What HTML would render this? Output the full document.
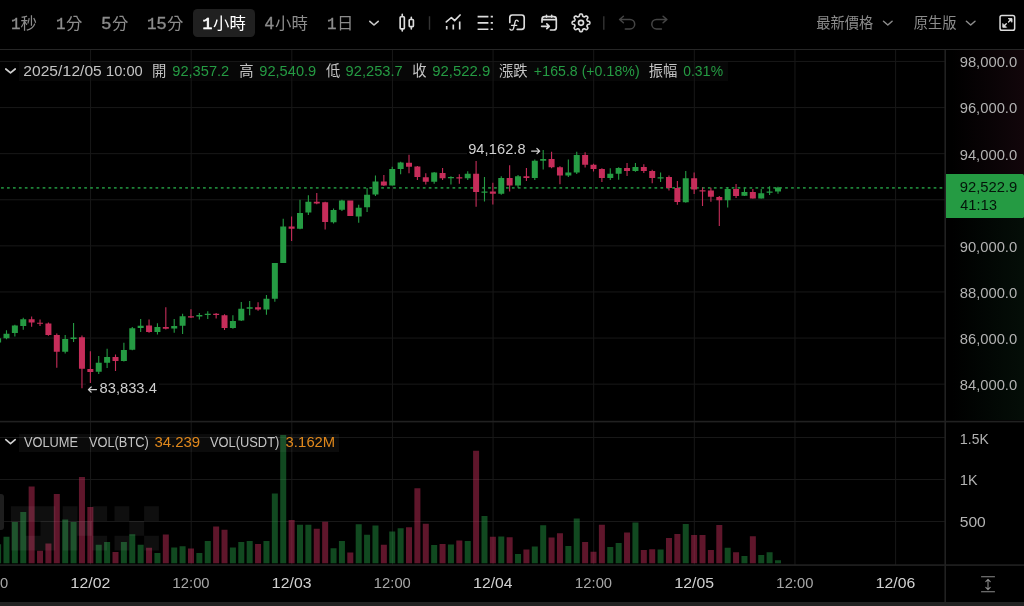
<!DOCTYPE html>
<html lang="zh-Hant">
<head>
<meta charset="utf-8">
<title>BTC/USDT 1H</title>
<style>
html,body{margin:0;padding:0;background:#000;}
body{width:1024px;height:606px;overflow:hidden;position:relative;font-family:"Liberation Sans",sans-serif;color:#b2b2b2;}
.abs{position:absolute;}
#toolbar{left:0;top:0;width:1024px;height:49px;border-bottom:1px solid #262626;box-sizing:content-box;background:#000;}
#tf-active{left:193px;top:9px;width:61.8px;height:28px;border-radius:4.5px;background:#202020;}
#main{left:0;top:50px;width:945px;height:370px;}
#vol{left:0;top:421px;width:945px;height:143px;}
#axis-top{left:946px;top:50px;width:78px;height:124px;background:linear-gradient(90deg,rgba(0,0,0,0) 8%,rgba(48,16,28,.36) 100%);}
#axis-bot{left:946px;top:218px;width:78px;height:202px;background:linear-gradient(90deg,rgba(0,0,0,0) 8%,rgba(12,40,22,.34) 100%);}
#plabel{left:946px;top:174px;width:78px;height:44px;background:#259b43;border-radius:0 1.5px 1.5px 0;}
#lastline{left:0;top:187.4px;width:945px;height:1.2px;background:repeating-linear-gradient(90deg,#25a045 0,#25a045 2.2px,transparent 2.2px,transparent 6.3px);}
#legend-bg{left:19px;top:62px;width:709px;height:18.5px;background:#070707;}
#vlegend-bg{left:19px;top:433.5px;width:320px;height:18px;background:rgba(255,255,255,.045);}
#handle{left:-2px;top:494px;width:5.5px;height:36px;border-radius:3px;background:#1e1e1e;}
#bottom{left:0;top:602px;width:1024px;height:4px;background:#222;}
#lo-bg{left:86px;top:382.5px;width:73px;height:13.5px;background:#000;}
#hi-bg{left:467px;top:143px;width:26px;height:15px;background:#000;}
#hi-bg2{left:494.1px;top:143px;width:47px;height:15px;background:#000;}
svg{position:absolute;left:0;top:0;}
#ui{will-change:transform;}
text{font-family:"Liberation Sans",sans-serif;}
text.m{font-family:"Liberation Mono",monospace;}
text.c{font-family:"Liberation Sans","Noto Sans CJK TC",sans-serif;}
</style>
</head>
<body>
<div id="toolbar" class="abs"><div id="tf-active" class="abs"></div></div>
<div id="main" class="abs"></div>
<div id="vol" class="abs"></div>
<div id="legend-bg" class="abs"></div>
<div id="axis-top" class="abs"></div>
<div id="axis-bot" class="abs"></div>
<svg id="chart" width="1024" height="606" viewBox="0 0 1024 606">
<rect x="90.05" y="50" width="1" height="515" fill="#181818"/>
<rect x="190.68" y="50" width="1" height="515" fill="#181818"/>
<rect x="291.31" y="50" width="1" height="515" fill="#181818"/>
<rect x="391.94" y="50" width="1" height="515" fill="#181818"/>
<rect x="492.57" y="50" width="1" height="515" fill="#181818"/>
<rect x="593.2" y="50" width="1" height="515" fill="#181818"/>
<rect x="693.83" y="50" width="1" height="515" fill="#181818"/>
<rect x="794.46" y="50" width="1" height="515" fill="#181818"/>
<rect x="895.09" y="50" width="1" height="515" fill="#181818"/>
<rect x="0" y="60.95" width="945" height="1" fill="#181818"/>
<rect x="0" y="107.05" width="945" height="1" fill="#181818"/>
<rect x="0" y="153.15" width="945" height="1" fill="#181818"/>
<rect x="0" y="199.25" width="945" height="1" fill="#181818"/>
<rect x="0" y="245.35" width="945" height="1" fill="#181818"/>
<rect x="0" y="291.45" width="945" height="1" fill="#181818"/>
<rect x="0" y="337.55" width="945" height="1" fill="#181818"/>
<rect x="0" y="383.65" width="945" height="1" fill="#181818"/>
<rect x="0" y="437" width="945" height="1" fill="#181818"/>
<rect x="0" y="479" width="945" height="1" fill="#181818"/>
<rect x="0" y="521" width="945" height="1" fill="#181818"/>
<line x1="1.08" y1="187.95" x2="943" y2="187.95" stroke="#25a045" stroke-width="1.7" stroke-dasharray="2.7 3.24" opacity=".82"/>
<path d="M-4.9 544.3h6V563.3h-6zM3.49 536.7h6V563.3h-6zM11.87 521.9h6V563.3h-6zM20.26 512h6V563.3h-6zM62.19 519.6h6V563.3h-6zM70.57 521.9h6V563.3h-6zM95.73 544.8h6V563.3h-6zM104.12 542h6V563.3h-6zM120.89 542h6V563.3h-6zM129.28 534.2h6V563.3h-6zM137.66 544.8h6V563.3h-6zM154.43 553.1h6V563.3h-6zM171.21 547.6h6V563.3h-6zM179.59 546.2h6V563.3h-6zM196.36 553.1h6V563.3h-6zM204.75 540.9h6V563.3h-6zM229.91 547.6h6V563.3h-6zM238.29 542h6V563.3h-6zM246.68 540.9h6V563.3h-6zM263.45 540.9h6V563.3h-6zM271.84 493.5h6V563.3h-6zM280.22 435.1h6V563.3h-6zM297 524.7h6V563.3h-6zM305.38 524.7h6V563.3h-6zM330.54 548.2h6V563.3h-6zM338.93 540.9h6V563.3h-6zM355.7 524.2h6V563.3h-6zM364.08 534.8h6V563.3h-6zM372.47 525.6h6V563.3h-6zM389.24 531.6h6V563.3h-6zM397.63 528.2h6V563.3h-6zM431.17 545h6V563.3h-6zM447.94 544.5h6V563.3h-6zM464.72 540.9h6V563.3h-6zM481.49 515.9h6V563.3h-6zM498.26 536.5h6V563.3h-6zM515.03 554h6V563.3h-6zM531.8 546.4h6V563.3h-6zM540.19 525.2h6V563.3h-6zM565.35 545.9h6V563.3h-6zM573.73 518.5h6V563.3h-6zM607.28 546.9h6V563.3h-6zM615.66 542.9h6V563.3h-6zM632.44 522.4h6V563.3h-6zM657.59 549.6h6V563.3h-6zM682.75 524h6V563.3h-6zM724.68 547.8h6V563.3h-6zM741.45 555.9h6V563.3h-6zM758.23 555h6V563.3h-6zM766.61 552.2h6V563.3h-6zM775 560.3h6V563.3h-6z" fill="#259b43" fill-opacity=".47"/>
<path d="M28.64 486.6h6V563.3h-6zM37.03 550.8h6V563.3h-6zM45.42 543.4h6V563.3h-6zM53.8 494h6V563.3h-6zM78.96 476.9h6V563.3h-6zM87.35 507.1h6V563.3h-6zM112.5 551.9h6V563.3h-6zM146.05 547.8h6V563.3h-6zM162.82 534.4h6V563.3h-6zM187.98 548.5h6V563.3h-6zM213.14 526.5h6V563.3h-6zM221.52 529.8h6V563.3h-6zM255.07 544.1h6V563.3h-6zM288.61 520.1h6V563.3h-6zM313.77 528.8h6V563.3h-6zM322.15 521.7h6V563.3h-6zM347.31 552.4h6V563.3h-6zM380.86 544.8h6V563.3h-6zM406.01 527.2h6V563.3h-6zM414.4 488.2h6V563.3h-6zM422.79 523.8h6V563.3h-6zM439.56 544.1h6V563.3h-6zM456.33 540.4h6V563.3h-6zM473.1 450.8h6V563.3h-6zM489.87 536.7h6V563.3h-6zM506.65 537.2h6V563.3h-6zM523.42 549.4h6V563.3h-6zM548.58 537.4h6V563.3h-6zM556.96 533.2h6V563.3h-6zM582.12 542h6V563.3h-6zM590.51 551.7h6V563.3h-6zM598.89 524.7h6V563.3h-6zM624.05 532.5h6V563.3h-6zM640.82 550.1h6V563.3h-6zM649.21 549.2h6V563.3h-6zM665.98 538.1h6V563.3h-6zM674.37 533.9h6V563.3h-6zM691.14 535.1h6V563.3h-6zM699.52 535.1h6V563.3h-6zM707.91 550.1h6V563.3h-6zM716.3 524.9h6V563.3h-6zM733.07 552.2h6V563.3h-6zM749.84 536.3h6V563.3h-6z" fill="#c62d5a" fill-opacity=".48"/>
<path d="M-2.45 336.5h1.1V344.5h-1.1zM5.94 330.2h1.1V339.3h-1.1zM14.32 324.8h1.1V336.6h-1.1zM22.71 317.8h1.1V329.7h-1.1zM64.64 335h1.1V353.5h-1.1zM73.02 323.1h1.1V342.1h-1.1zM98.18 356.1h1.1V374h-1.1zM106.57 348.7h1.1V368h-1.1zM123.34 342.7h1.1V361.4h-1.1zM131.73 327.1h1.1V350.3h-1.1zM140.11 318.9h1.1V332.1h-1.1zM156.88 323.2h1.1V334.4h-1.1zM173.66 319h1.1V332.7h-1.1zM182.04 313.8h1.1V334.1h-1.1zM198.81 312.9h1.1V319.5h-1.1zM207.2 311.3h1.1V318.9h-1.1zM232.36 315.2h1.1V328.8h-1.1zM240.74 301.9h1.1V321h-1.1zM249.13 301.1h1.1V315.3h-1.1zM265.9 295h1.1V314.8h-1.1zM274.29 263.1h1.1V301.7h-1.1zM282.67 218.8h1.1V263.1h-1.1zM299.45 199.8h1.1V229.2h-1.1zM307.83 195.3h1.1V214.9h-1.1zM332.99 208.4h1.1V223.5h-1.1zM341.38 199.8h1.1V210.9h-1.1zM358.15 204.7h1.1V222.8h-1.1zM366.53 188h1.1V212.1h-1.1zM374.92 175.4h1.1V196h-1.1zM391.69 166.7h1.1V185.8h-1.1zM400.08 161.7h1.1V174.2h-1.1zM433.62 171.9h1.1V183.8h-1.1zM450.39 176.2h1.1V184.5h-1.1zM467.17 171.3h1.1V179.9h-1.1zM483.94 177.1h1.1V201.5h-1.1zM500.71 176.2h1.1V194.7h-1.1zM517.48 174.9h1.1V187.8h-1.1zM534.25 159.4h1.1V180h-1.1zM542.64 150h1.1V169.6h-1.1zM567.8 159.4h1.1V177.1h-1.1zM576.18 151.8h1.1V173.9h-1.1zM609.73 168.3h1.1V180h-1.1zM618.11 167.2h1.1V179.7h-1.1zM634.89 163.1h1.1V171.7h-1.1zM660.04 172.5h1.1V182.1h-1.1zM685.2 171h1.1V202.7h-1.1zM727.13 187.1h1.1V207.6h-1.1zM743.9 187.7h1.1V196h-1.1zM760.68 188.9h1.1V198.7h-1.1zM769.06 186.3h1.1V194.9h-1.1zM777.45 186.8h1.1V193.8h-1.1zM-4.9 338.3h6V342.6h-6zM3.49 333.7h6V338.3h-6zM11.87 325.6h6V333h-6zM20.26 319.2h6V325.9h-6zM62.19 339h6V351.7h-6zM70.57 337.6h6V339.1h-6zM95.73 362.7h6V371.8h-6zM104.12 357.1h6V362.7h-6zM120.89 350h6V361h-6zM129.28 328.2h6V349.8h-6zM137.66 325.8h6V328.1h-6zM154.43 327h6V332.1h-6zM171.21 326.1h6V328.4h-6zM179.59 316.2h6V325.8h-6zM196.36 315.1h6V316.4h-6zM204.75 313.8h6V315.1h-6zM229.91 320.9h6V328.1h-6zM238.29 308.8h6V320.6h-6zM246.68 307.2h6V308.7h-6zM263.45 298.7h6V309.4h-6zM271.84 263.1h6V298.7h-6zM280.22 226.5h6V263.1h-6zM297 212.9h6V228.7h-6zM305.38 201.8h6V212.6h-6zM330.54 209.9h6V222.3h-6zM338.93 200.5h6V209.7h-6zM355.7 207.8h6V216.4h-6zM364.08 194.7h6V207.3h-6zM372.47 181.4h6V194.6h-6zM389.24 169.1h6V185.5h-6zM397.63 162.4h6V169h-6zM431.17 172.6h6V181.8h-6zM447.94 177.1h6V178.3h-6zM464.72 173.8h6V178.2h-6zM481.49 191.4h6V192.7h-6zM498.26 178h6V193.7h-6zM515.03 176.2h6V185.5h-6zM531.8 160.7h6V177.9h-6zM540.19 158.9h6V160.7h-6zM565.35 172.6h6V175.6h-6zM573.73 155.1h6V172.6h-6zM607.28 173.8h6V178h-6zM615.66 168h6V173.8h-6zM632.44 166.9h6V171h-6zM657.59 177.25h6V178.45h-6zM682.75 178.3h6V202.2h-6zM724.68 188.9h6V200.2h-6zM741.45 192.1h6V195.8h-6zM758.23 193.3h6V198.5h-6zM766.61 191.6h6V192.8h-6zM775 187.5h6V191.4h-6z" fill="#259b43"/>
<path d="M31.09 316.5h1.1V326.7h-1.1zM39.48 319.5h1.1V326.1h-1.1zM47.87 322.6h1.1V335.7h-1.1zM56.25 333.4h1.1V367.7h-1.1zM81.41 335.5h1.1V388.3h-1.1zM89.8 351.2h1.1V383.9h-1.1zM114.95 354.5h1.1V371h-1.1zM148.5 319.5h1.1V332.7h-1.1zM165.27 307.3h1.1V329.4h-1.1zM190.43 309.3h1.1V317.9h-1.1zM215.59 312.9h1.1V318.4h-1.1zM223.97 314.2h1.1V330.1h-1.1zM257.52 302.2h1.1V310.7h-1.1zM291.06 216.4h1.1V241.1h-1.1zM316.22 193.1h1.1V204.2h-1.1zM324.6 201.8h1.1V229.5h-1.1zM349.76 200.5h1.1V216.1h-1.1zM383.31 174.9h1.1V186.1h-1.1zM408.46 154.8h1.1V173.3h-1.1zM416.85 166h1.1V180h-1.1zM425.24 173.3h1.1V184.5h-1.1zM442.01 168h1.1V179.9h-1.1zM458.78 174.2h1.1V183.8h-1.1zM475.55 161h1.1V206.8h-1.1zM492.32 182.8h1.1V204.6h-1.1zM509.1 165.3h1.1V191.4h-1.1zM525.87 168h1.1V180.9h-1.1zM551.03 151.8h1.1V168.3h-1.1zM559.41 166.3h1.1V184.2h-1.1zM584.57 152.3h1.1V167.6h-1.1zM592.96 163.8h1.1V171.6h-1.1zM601.34 168.3h1.1V182h-1.1zM626.5 163.1h1.1V176h-1.1zM643.27 164.3h1.1V173h-1.1zM651.66 169.7h1.1V183.3h-1.1zM668.43 175.5h1.1V190.4h-1.1zM676.82 180.9h1.1V204.7h-1.1zM693.59 172.5h1.1V194h-1.1zM701.97 187.4h1.1V206h-1.1zM710.36 187.8h1.1V201.8h-1.1zM718.75 196h1.1V225.9h-1.1zM735.52 183.9h1.1V198h-1.1zM752.29 188.9h1.1V198.7h-1.1zM28.64 319.2h6V322.6h-6zM37.03 322.65h6V323.85h-6zM45.42 323.6h6V335h-6zM53.8 335h6V351.7h-6zM78.96 337.3h6V368.7h-6zM87.35 369h6V372h-6zM112.5 357.1h6V361.1h-6zM146.05 325.6h6V332.1h-6zM162.82 327h6V328.8h-6zM187.98 316.2h6V317.4h-6zM213.14 313.75h6V314.95h-6zM221.52 315.2h6V328.1h-6zM255.07 307.2h6V309.5h-6zM288.61 226.6h6V228.7h-6zM313.77 201.8h6V203.5h-6zM322.15 202.3h6V222h-6zM347.31 200.5h6V216.1h-6zM380.86 181.5h6V185.6h-6zM406.01 162.7h6V166.7h-6zM414.4 166.5h6V177.1h-6zM422.79 177.2h6V181.8h-6zM439.56 172.9h6V178.2h-6zM456.33 177.2h6V178.5h-6zM473.1 173.8h6V191.9h-6zM489.87 191.4h6V193.7h-6zM506.65 178h6V185.6h-6zM523.42 176.2h6V177.9h-6zM548.58 159.1h6V167.3h-6zM556.96 167.3h6V175.4h-6zM582.12 155.1h6V164.8h-6zM590.51 164.8h6V169h-6zM598.89 169h6V178h-6zM624.05 168.1h6V171h-6zM640.82 166.9h6V170.9h-6zM649.21 170.9h6V178.1h-6zM665.98 177.1h6V187.9h-6zM674.37 187.9h6V202.1h-6zM691.14 178.3h6V189.5h-6zM699.52 190.3h6V191.5h-6zM707.91 190.5h6V196.7h-6zM716.3 197h6V200.2h-6zM733.07 188.9h6V196h-6zM749.84 192.1h6V198.5h-6z" fill="#c62d5a"/>
<path d="M10.9 506.2h14.8v14.8h-14.8zM25.7 506.2h14.8v14.8h-14.8zM40.5 506.2h14.8v14.8h-14.8zM10.9 521h14.8v14.8h-14.8zM40.5 521h14.8v14.8h-14.8zM10.9 535.8h14.8v14.8h-14.8zM25.7 535.8h14.8v14.8h-14.8zM40.5 535.8h14.8v14.8h-14.8zM62.7 506.2h14.8v14.8h-14.8zM92.3 506.2h14.8v14.8h-14.8zM62.7 521h14.8v14.8h-14.8zM77.5 521h14.8v14.8h-14.8zM62.7 535.8h14.8v14.8h-14.8zM92.3 535.8h14.8v14.8h-14.8zM114.5 506.2h14.8v14.8h-14.8zM144.1 506.2h14.8v14.8h-14.8zM129.3 521h14.8v14.8h-14.8zM114.5 535.8h14.8v14.8h-14.8zM144.1 535.8h14.8v14.8h-14.8z" fill="#fff" fill-opacity="0.058"/>
<g id="frame" fill="#212121">
<rect x="0" y="420.8" width="1024" height="1.6"/>
<rect x="0" y="564.3" width="1024" height="1.6"/>
<rect x="944.4" y="50" width="1.6" height="552"/>
</g>
</svg>
<div id="vlegend-bg" class="abs"></div>
<div id="lo-bg" class="abs"></div>
<div id="hi-bg" class="abs"></div>
<div id="hi-bg2" class="abs"></div>
<div id="plabel" class="abs"></div>
<div id="handle" class="abs"></div>
<div id="bottom" class="abs"></div>
<svg id="ui" width="1024" height="606" viewBox="0 0 1024 606">

<g fill="none" stroke="#dcdcdc" stroke-width="1.65" stroke-linecap="round" stroke-linejoin="round">
<path d="M369.8 21.3L374 25L378.2 21.3" stroke="#c8c8c8"/>
<rect x="400.15" y="16.75" width="4.2" height="12.1" rx="0.8"/><path d="M402.25 14.4V16.2M402.25 29.4V30.9"/>
<rect x="409.2" y="19.45" width="4.2" height="7.2" rx="0.8"/><path d="M411.3 17.4V18.9M411.3 27.2V29"/>
<path d="M446.7 26V29.6M453.3 24.6V29.6M459.7 21.4V29.6" stroke-linecap="butt"/>
<path d="M446.3 21.9L451.4 17.5L454.6 20.6L460.1 15"/>
<path d="M477.6 16.6H488.4M477.6 22.9H488.4M477.6 29.2H488.4M490.7 16.6H492.9M490.7 22.9H492.9M490.7 29.2H492.9" stroke-linecap="butt"/>
<path d="M509.8 22.6V17.6Q509.8 15 512.4 15H521.6Q524.2 15 524.2 17.6V26.8Q524.2 29.4 521.6 29.4H517.2"/>
<path d="M518.2 21.3C517.9 19.7 515.6 19.5 515.2 21.5L513.5 28.6C513 30.6 510.7 30.7 509.9 29.1M511.5 25.3H516.8" stroke-width="1.3"/>
<path d="M542 22.2V19.2Q542 16.6 544.6 16.6H553.7Q556.3 16.6 556.3 19.2V27.4Q556.3 30 553.7 30H550.4M542 19.6H556.3M546.5 15.3V17.2M551.7 15.3V17.2"/>
<path d="M541.6 26.3H549M546.8 23.9L549.3 26.3L546.8 28.7"/>
<path d="M581 13.95L581.35 13.97L581.69 14.02L582.02 14.17L582.31 14.53L582.51 15.2L582.66 15.87L582.85 16.25L583.07 16.43L583.3 16.55L583.54 16.66L583.79 16.75L584.04 16.83L584.33 16.86L584.72 16.73L585.31 16.36L585.92 16.02L586.38 15.97L586.72 16.1L587 16.31L587.26 16.54L587.49 16.8L587.7 17.08L587.83 17.42L587.78 17.88L587.44 18.49L587.07 19.08L586.94 19.47L586.97 19.76L587.05 20.01L587.14 20.26L587.25 20.5L587.37 20.73L587.55 20.95L587.93 21.14L588.6 21.29L589.27 21.49L589.63 21.78L589.78 22.11L589.83 22.45L589.85 22.8L589.83 23.15L589.78 23.49L589.63 23.82L589.27 24.11L588.6 24.31L587.93 24.46L587.55 24.65L587.37 24.87L587.25 25.1L587.14 25.34L587.05 25.59L586.97 25.84L586.94 26.13L587.07 26.52L587.44 27.11L587.78 27.72L587.83 28.18L587.7 28.52L587.49 28.8L587.26 29.06L587 29.29L586.72 29.5L586.38 29.63L585.92 29.58L585.31 29.24L584.72 28.87L584.33 28.74L584.04 28.77L583.79 28.85L583.54 28.94L583.3 29.05L583.07 29.17L582.85 29.35L582.66 29.73L582.51 30.4L582.31 31.07L582.02 31.43L581.69 31.58L581.35 31.63L581 31.65L580.65 31.63L580.31 31.58L579.98 31.43L579.69 31.07L579.49 30.4L579.34 29.73L579.15 29.35L578.93 29.17L578.7 29.05L578.46 28.94L578.21 28.85L577.96 28.77L577.67 28.74L577.28 28.87L576.69 29.24L576.08 29.58L575.62 29.63L575.28 29.5L575 29.29L574.74 29.06L574.51 28.8L574.3 28.52L574.17 28.18L574.22 27.72L574.56 27.11L574.93 26.52L575.06 26.13L575.03 25.84L574.95 25.59L574.86 25.34L574.75 25.1L574.63 24.87L574.45 24.65L574.07 24.46L573.4 24.31L572.73 24.11L572.37 23.82L572.22 23.49L572.17 23.15L572.15 22.8L572.17 22.45L572.22 22.11L572.37 21.78L572.73 21.49L573.4 21.29L574.07 21.14L574.45 20.95L574.63 20.73L574.75 20.5L574.86 20.26L574.95 20.01L575.03 19.76L575.06 19.47L574.93 19.08L574.56 18.49L574.22 17.88L574.17 17.42L574.3 17.08L574.51 16.8L574.74 16.54L575 16.31L575.28 16.1L575.62 15.97L576.08 16.02L576.69 16.36L577.28 16.73L577.67 16.86L577.96 16.83L578.21 16.75L578.46 16.66L578.7 16.55L578.93 16.43L579.15 16.25L579.34 15.87L579.49 15.2L579.69 14.53L579.98 14.17L580.31 14.02L580.65 13.97Z"/><circle cx="581" cy="22.8" r="2.5"/>
</g>
<path d="M429.5 16.2V29.7M603.8 16.2V29.8" stroke="#333" stroke-width="1.4" fill="none"/>
<g fill="none" stroke="#454545" stroke-width="1.5" stroke-linecap="round" stroke-linejoin="round">
<path d="M623.4 16.2L619.6 19.5L623.4 22.8M619.8 19.5H630A4.7 4.7 0 0 1 630 28.9H625.3"/>
<path d="M663.1 16.2L666.9 19.5L663.1 22.8M666.7 19.5H656.5A4.7 4.7 0 0 0 656.5 28.9H661.4"/>
</g>
<g fill="none" stroke="#8c8c8c" stroke-width="1.5" stroke-linecap="round" stroke-linejoin="round">
<path d="M883.5 21.3L887.8 25L892.1 21.3M966.4 21.3L970.7 25L975 21.3"/>
</g>
<g fill="none" stroke="#dcdcdc" stroke-linecap="round" stroke-linejoin="round">
<rect x="1000.05" y="15.45" width="14.6" height="14.8" rx="1.8" stroke-width="1.5"/>
<path d="M1008.6 18.5H1012V21.9ZM1002.8 23.9V27.3H1006.2Z" fill="#dcdcdc" stroke-width="0.9"/><path d="M1011 19.5L1008.5 22M1003.8 26.3L1006.3 23.8" stroke-width="1.3"/>
</g>
<g fill="none" stroke="#d0d0d0" stroke-width="1.7" stroke-linecap="round" stroke-linejoin="round">
<path d="M5.8 69L10.5 72.9L15.2 69M5.8 439.7L10.5 443.6L15.2 439.7"/>
</g>
<g fill="none" stroke="#d0d0d0" stroke-width="1.2" stroke-linecap="round" stroke-linejoin="round">
<path d="M96.5 389.6H88.6M91.2 387L88.4 389.6L91.2 392.2"/>
<path d="M531.6 151.1H539.5M536.9 148.5L539.7 151.1L536.9 153.7"/>
</g>
<g fill="none" stroke="#8a8a8a" stroke-width="1.1" stroke-linecap="round" stroke-linejoin="round">
<path d="M981.5 576.8H994.5M981.5 591.7H994.5M988 579.6V589.4M985.8 581.6L988 579.4L990.2 581.6M985.8 587.4L988 589.6L990.2 587.4"/>
</g>

<g id="cjk">
<text class="c" x="20.52" y="29.38" font-size="16.4" fill="#8c8c8c">秒</text>
<text class="c" x="65.92" y="29.38" font-size="16.4" fill="#8c8c8c">分</text>
<text class="c" x="111.92" y="29.38" font-size="16.4" fill="#8c8c8c">分</text>
<text class="c" x="166.92" y="29.38" font-size="16.4" fill="#8c8c8c">分</text>
<text class="c" x="213.04" y="29.38" font-size="16.4" fill="#fff">小時</text>
<text class="c" x="275.04" y="29.38" font-size="16.4" fill="#8c8c8c">小時</text>
<text class="c" x="337.03" y="29.38" font-size="16.4" fill="#8c8c8c">日</text>
<text class="c" x="816.24" y="28.31" font-size="14.25" fill="#8c8c8c">最新價格</text>
<text class="c" x="913.66" y="28.31" font-size="14.25" fill="#8c8c8c">原生版</text>
<text class="c" x="152.06" y="76.23" font-size="14.3" fill="#c4c4c4">開</text>
<text class="c" x="239.13" y="76.23" font-size="14.3" fill="#c4c4c4">高</text>
<text class="c" x="325.99" y="76.23" font-size="14.3" fill="#c4c4c4">低</text>
<text class="c" x="412.17" y="76.23" font-size="14.3" fill="#c4c4c4">收</text>
<text class="c" x="498.93" y="76.23" font-size="14.3" fill="#c4c4c4">漲跌</text>
<text class="c" x="648.78" y="76.23" font-size="14.3" fill="#c4c4c4">振幅</text>
</g>
<g id="labels">
<text x="11.05" y="28.75" font-size="15.6" fill="#8c8c8c" textLength="9.51" lengthAdjust="spacingAndGlyphs" stroke="#8c8c8c" stroke-width="0.35" class="m">1</text>
<text x="56.05" y="28.75" font-size="15.6" fill="#8c8c8c" textLength="9.51" lengthAdjust="spacingAndGlyphs" stroke="#8c8c8c" stroke-width="0.35" class="m">1</text>
<text x="101.51" y="28.75" font-size="15.6" fill="#8c8c8c" textLength="9.62" lengthAdjust="spacingAndGlyphs" stroke="#8c8c8c" stroke-width="0.35">5</text>
<text x="147.05" y="28.75" font-size="15.6" fill="#8c8c8c" textLength="9.51" lengthAdjust="spacingAndGlyphs" stroke="#8c8c8c" stroke-width="0.35" class="m">1</text>
<text x="156.71" y="28.75" font-size="15.6" fill="#8c8c8c" textLength="9.62" lengthAdjust="spacingAndGlyphs" stroke="#8c8c8c" stroke-width="0.35">5</text>
<text x="202.62" y="28.75" font-size="15.6" fill="#fff" textLength="9.76" lengthAdjust="spacingAndGlyphs" stroke="#fff" stroke-width="0.7" class="m">1</text>
<text x="264.82" y="28.75" font-size="15.6" fill="#8c8c8c" textLength="9.27" lengthAdjust="spacingAndGlyphs" stroke="#8c8c8c" stroke-width="0.35">4</text>
<text x="327.05" y="28.75" font-size="15.6" fill="#8c8c8c" textLength="9.51" lengthAdjust="spacingAndGlyphs" stroke="#8c8c8c" stroke-width="0.35" class="m">1</text>
<text x="23.32" y="75.9" font-size="14" fill="#c4c4c4" textLength="78.43" lengthAdjust="spacingAndGlyphs">2025/<tspan class="m" font-size="14.62">1</tspan>2/05</text>
<text x="105.71" y="75.9" font-size="14" fill="#c4c4c4" textLength="37.05" lengthAdjust="spacingAndGlyphs"><tspan class="m" font-size="14.62">1</tspan>0:00</text>
<text x="172.31" y="75.9" font-size="14" fill="#259b43" textLength="56.92" lengthAdjust="spacingAndGlyphs">92,357.2</text>
<text x="259.32" y="75.9" font-size="14" fill="#259b43" textLength="56.88" lengthAdjust="spacingAndGlyphs">92,540.9</text>
<text x="345.61" y="75.9" font-size="14" fill="#259b43" textLength="57.13" lengthAdjust="spacingAndGlyphs">92,253.7</text>
<text x="432.3" y="75.9" font-size="14" fill="#259b43" textLength="57.9" lengthAdjust="spacingAndGlyphs">92,522.9</text>
<text x="533.82" y="75.9" font-size="14" fill="#259b43" textLength="105.79" lengthAdjust="spacingAndGlyphs">+<tspan class="m" font-size="14.62">1</tspan>65.8 (+0.<tspan class="m" font-size="14.62">1</tspan>8%)</text>
<text x="683.22" y="75.9" font-size="14" fill="#259b43" textLength="39.77" lengthAdjust="spacingAndGlyphs">0.3<tspan class="m" font-size="14.62">1</tspan>%</text>
<text x="23.94" y="446.9" font-size="14" fill="#c4c4c4" textLength="54.11" lengthAdjust="spacingAndGlyphs">VOLUME</text>
<text x="88.94" y="446.9" font-size="14" fill="#c4c4c4" textLength="59.85" lengthAdjust="spacingAndGlyphs">VOL(BTC)</text>
<text x="154.43" y="446.9" font-size="14" fill="#e0881c" textLength="45.78" lengthAdjust="spacingAndGlyphs">34.239</text>
<text x="209.94" y="446.9" font-size="14" fill="#c4c4c4" textLength="69.35" lengthAdjust="spacingAndGlyphs">VOL(USDT)</text>
<text x="285.44" y="446.9" font-size="14" fill="#e0881c" textLength="49.75" lengthAdjust="spacingAndGlyphs">3.<tspan class="m" font-size="14.62">1</tspan>62M</text>
<text x="99.56" y="393.2" font-size="14" fill="#d0d0d0" textLength="57.27" lengthAdjust="spacingAndGlyphs">83,833.4</text>
<text x="468.22" y="153.8" font-size="14" fill="#d0d0d0" textLength="57.31" lengthAdjust="spacingAndGlyphs">94,<tspan class="m" font-size="14.62">1</tspan>62.8</text>
<text x="959.71" y="67.3" font-size="14" fill="#b2b2b2" textLength="57.47" lengthAdjust="spacingAndGlyphs">98,000.0</text>
<text x="959.71" y="113.4" font-size="14" fill="#b2b2b2" textLength="57.47" lengthAdjust="spacingAndGlyphs">96,000.0</text>
<text x="959.71" y="159.5" font-size="14" fill="#b2b2b2" textLength="57.47" lengthAdjust="spacingAndGlyphs">94,000.0</text>
<text x="959.71" y="251.7" font-size="14" fill="#b2b2b2" textLength="57.47" lengthAdjust="spacingAndGlyphs">90,000.0</text>
<text x="959.76" y="297.8" font-size="14" fill="#b2b2b2" textLength="57.42" lengthAdjust="spacingAndGlyphs">88,000.0</text>
<text x="959.76" y="343.9" font-size="14" fill="#b2b2b2" textLength="57.42" lengthAdjust="spacingAndGlyphs">86,000.0</text>
<text x="959.76" y="390" font-size="14" fill="#b2b2b2" textLength="57.42" lengthAdjust="spacingAndGlyphs">84,000.0</text>
<text x="959.78" y="443.5" font-size="14" fill="#b2b2b2" textLength="28.88" lengthAdjust="spacingAndGlyphs"><tspan class="m" font-size="14.62">1</tspan>.5K</text>
<text x="959.76" y="485.2" font-size="14" fill="#b2b2b2" textLength="17.9" lengthAdjust="spacingAndGlyphs"><tspan class="m" font-size="14.62">1</tspan>K</text>
<text x="959.78" y="527.1" font-size="14" fill="#b2b2b2" textLength="26.03" lengthAdjust="spacingAndGlyphs">500</text>
<text x="959.71" y="192.2" font-size="14" fill="#04140a" textLength="57.59" lengthAdjust="spacingAndGlyphs">92,522.9</text>
<text x="960.28" y="209.7" font-size="14" fill="#04140a" textLength="36.63" lengthAdjust="spacingAndGlyphs">4<tspan class="m" font-size="14.62">1</tspan>:<tspan class="m" font-size="14.62">1</tspan>3</text>
<text x="-28.97" y="588.1" font-size="14" fill="#a6a6a6" textLength="37.26" lengthAdjust="spacingAndGlyphs"><tspan class="m" font-size="14.62">1</tspan>2:00</text>
<text x="70.38" y="588.1" font-size="14" fill="#d0d0d0" textLength="39.95" lengthAdjust="spacingAndGlyphs"><tspan class="m" font-size="14.62">1</tspan>2/02</text>
<text x="172.29" y="588.1" font-size="14" fill="#a6a6a6" textLength="37.26" lengthAdjust="spacingAndGlyphs"><tspan class="m" font-size="14.62">1</tspan>2:00</text>
<text x="271.64" y="588.1" font-size="14" fill="#d0d0d0" textLength="39.85" lengthAdjust="spacingAndGlyphs"><tspan class="m" font-size="14.62">1</tspan>2/03</text>
<text x="373.55" y="588.1" font-size="14" fill="#a6a6a6" textLength="37.26" lengthAdjust="spacingAndGlyphs"><tspan class="m" font-size="14.62">1</tspan>2:00</text>
<text x="472.91" y="588.1" font-size="14" fill="#d0d0d0" textLength="39.61" lengthAdjust="spacingAndGlyphs"><tspan class="m" font-size="14.62">1</tspan>2/04</text>
<text x="574.81" y="588.1" font-size="14" fill="#a6a6a6" textLength="37.26" lengthAdjust="spacingAndGlyphs"><tspan class="m" font-size="14.62">1</tspan>2:00</text>
<text x="674.16" y="588.1" font-size="14" fill="#d0d0d0" textLength="39.82" lengthAdjust="spacingAndGlyphs"><tspan class="m" font-size="14.62">1</tspan>2/05</text>
<text x="776.07" y="588.1" font-size="14" fill="#a6a6a6" textLength="37.26" lengthAdjust="spacingAndGlyphs"><tspan class="m" font-size="14.62">1</tspan>2:00</text>
<text x="875.42" y="588.1" font-size="14" fill="#d0d0d0" textLength="39.85" lengthAdjust="spacingAndGlyphs"><tspan class="m" font-size="14.62">1</tspan>2/06</text>
</g>
</svg>
</body>
</html>
